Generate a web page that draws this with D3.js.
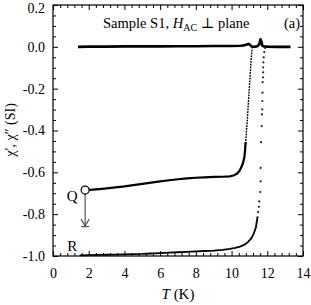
<!DOCTYPE html>
<html><head><meta charset="utf-8">
<script src="https://cdn.jsdelivr.net/npm/d3@7/dist/d3.min.js"></script>
<style>
html,body{margin:0;padding:0;background:#fff;}
svg text{font-family:"Liberation Serif","Times New Roman",Times,"DejaVu Serif",serif !important;fill:#000;}
</style></head>
<body><svg id="c" width="311" height="305"></svg>
<script>
// ---- data ----
const xMajor = [0,2,4,6,8,10,12,14];
const yMajor = [0.2,0.0,-0.2,-0.4,-0.6,-0.8,-1.0];

// curve Q (chi')
const tQ   = [1.8,2.2,2.6,3.0,3.5,4.0,4.5,5.0,5.5,6.0,6.5,7.0,7.5,8.0,8.5,9.0,9.5,9.9,10.1,10.3,10.45,10.55,10.65,10.72,10.76,10.79,10.82,10.85,10.88,10.91,10.94,10.97,11.0,11.03,11.06,11.09,11.12,11.15];
const chiQ = [-0.685,-0.683,-0.680,-0.677,-0.672,-0.667,-0.661,-0.655,-0.649,-0.643,-0.638,-0.633,-0.629,-0.626,-0.624,-0.622,-0.621,-0.619,-0.615,-0.607,-0.592,-0.575,-0.553,-0.525,-0.49,-0.455,-0.42,-0.385,-0.35,-0.31,-0.27,-0.23,-0.19,-0.15,-0.11,-0.07,-0.035,-0.008];

// curve R (chi')
const tR   = [1.5,2,2.5,3,3.5,4,4.5,5,5.5,6,6.5,7,7.5,8,8.5,9,9.5,9.9,10.2,10.47,10.7,10.85,11.0,11.13,11.22,11.31,11.36,11.41,11.45,11.49,11.53,11.55,11.61,11.63,11.63,11.65,11.69,11.70,11.72,11.72,11.73,11.74,11.76,11.77,11.77,11.78,11.80,11.83,11.88];
const chiR = [-0.997,-0.996,-0.995,-0.994,-0.993,-0.992,-0.991,-0.990,-0.988,-0.986,-0.984,-0.982,-0.980,-0.978,-0.976,-0.974,-0.971,-0.966,-0.961,-0.955,-0.947,-0.938,-0.926,-0.912,-0.897,-0.877,-0.862,-0.838,-0.815,-0.79,-0.765,-0.739,-0.694,-0.643,-0.579,-0.456,-0.379,-0.323,-0.299,-0.259,-0.219,-0.169,-0.146,-0.122,-0.098,-0.074,-0.05,-0.025,-0.005];

// chi''
const tI   = [1.4,2,3,4,5,6,7,8,9,10,10.5,10.7,10.85,10.95,11.05,11.15,11.3,11.45,11.55,11.62,11.67,11.72,11.8,12,12.5,13,13.3];
const chiI = [0.0,0.001,0.001,0.002,0.002,0.002,0.003,0.003,0.004,0.004,0.005,0.007,0.011,0.014,0.008,0.0,0.001,0.003,0.012,0.036,0.026,0.006,0.002,0.001,0.0,0.0,0.0];

// annotation (data units)
const markQ = {T:1.8, chi:-0.685};
const arrowEnd = -0.857;
const labels = [{text:"Q", T:1.08, chi:-0.735},{text:"R", T:1.08, chi:-0.977}];

// ---- drawing ----
const FONT = '"Liberation Serif","Times New Roman",Times,"DejaVu Serif",serif';
const svg = d3.select("#c");
const x = d3.scaleLinear().domain([0,14]).range([53,303]);
const y = d3.scaleLinear().domain([-1,0.2]).range([256,5]);
const xMinor = d3.range(0,14.001,0.4).filter(v=>xMajor.every(m=>Math.abs(m-v)>1e-6));
const yMinor = d3.range(-1,0.2001,0.05).filter(v=>yMajor.every(m=>Math.abs(m-v)>1e-6));

function styleAxis(g){
  g.attr("font-family",FONT);
  g.select(".domain").remove();
  g.selectAll(".tick line").attr("stroke","#000").attr("stroke-width",1);
}

const fmtY = v => (v<0?"-":"") + Math.abs(v).toFixed(1);
svg.append("g").attr("transform","translate(0,256)")
  .call(d3.axisBottom(x).tickValues(xMajor).tickSize(-5).tickPadding(12).tickFormat(d3.format("d")))
  .call(styleAxis).selectAll("text").attr("font-size",14);
svg.append("g").attr("transform","translate(0,256)")
  .call(d3.axisBottom(x).tickValues(xMinor).tickSize(-3).tickFormat("")).call(styleAxis);
svg.append("g").attr("transform","translate(0,5)")
  .call(d3.axisTop(x).tickValues(xMajor).tickSize(-5).tickFormat("")).call(styleAxis);
svg.append("g").attr("transform","translate(0,5)")
  .call(d3.axisTop(x).tickValues(xMinor).tickSize(-3).tickFormat("")).call(styleAxis);
const yAx = svg.append("g").attr("transform","translate(53,0)")
  .call(d3.axisLeft(y).tickValues(yMajor).tickSize(-5).tickPadding(8).tickFormat(fmtY))
  .call(styleAxis);
yAx.selectAll("text").attr("font-size",14)
  .attr("dy",d=>d>0.1 ? "0.5em" : "0.32em");
svg.append("g").attr("transform","translate(53,0)")
  .call(d3.axisLeft(y).tickValues(yMinor).tickSize(-3).tickFormat("")).call(styleAxis);
svg.append("g").attr("transform","translate(303,0)")
  .call(d3.axisRight(y).tickValues(yMajor).tickSize(-5).tickFormat("")).call(styleAxis);
svg.append("g").attr("transform","translate(303,0)")
  .call(d3.axisRight(y).tickValues(yMinor).tickSize(-3).tickFormat("")).call(styleAxis);

svg.append("rect").attr("x",53).attr("y",5).attr("width",250).attr("height",251)
  .attr("fill","none").attr("stroke","#000").attr("stroke-width",1.2);

const line = d3.line().x(d=>x(d[0])).y(d=>y(d[1]));
const dI = tI.map((t,i)=>[t,chiI[i]]);
const dQ = tQ.map((t,i)=>[t,chiQ[i]]);
const dR = tR.map((t,i)=>[t,chiR[i]]);

svg.append("path").attr("d",line(dI)).attr("fill","none").attr("stroke","#000").attr("stroke-width",2.6).attr("stroke-linejoin","round");
svg.append("path").attr("d",line(dQ.filter(d=>d[0]<=10.8))).attr("fill","none").attr("stroke","#000").attr("stroke-width",2.2).attr("stroke-linejoin","round");
svg.append("path").attr("d",line(dQ.filter(d=>d[0]>=10.76))).attr("fill","none").attr("stroke","#000").attr("stroke-width",1.4).attr("stroke-dasharray","1.8,1");
svg.append("path").attr("d",line(dR.filter(d=>d[0]<=11.45))).attr("fill","none").attr("stroke","#000").attr("stroke-width",1.8).attr("stroke-linejoin","round");
svg.append("g").selectAll("circle").data(dR.filter(d=>d[0]>=11.3)).join("circle")
  .attr("cx",d=>x(d[0])).attr("cy",d=>y(d[1])).attr("r",1.1).attr("fill","#222");

// annotation Q
const ax = x(markQ.T);
svg.append("line").attr("x1",ax).attr("x2",ax).attr("y1",y(markQ.chi)+4).attr("y2",y(arrowEnd))
  .attr("stroke","#555").attr("stroke-width",1.2);
svg.append("path").attr("d",`M${ax-4},${y(arrowEnd)-7}L${ax},${y(arrowEnd)}L${ax+4},${y(arrowEnd)-7}`)
  .attr("fill","none").attr("stroke","#555").attr("stroke-width",1.2);
svg.append("line").attr("x1",ax-4).attr("x2",ax+4).attr("y1",y(arrowEnd)+0.5).attr("y2",y(arrowEnd)+0.5)
  .attr("stroke","#555").attr("stroke-width",1.2);
svg.append("circle").attr("cx",ax).attr("cy",y(markQ.chi)).attr("r",4)
  .attr("fill","#fff").attr("stroke","#000").attr("stroke-width",1.2);

svg.selectAll("text.lab").data(labels).join("text").attr("class","lab")
  .attr("x",d=>x(d.T)).attr("y",d=>y(d.chi)).attr("text-anchor","middle").attr("font-size",15).text(d=>d.text);

// title
const title = svg.append("text").attr("x",103).attr("y",28).attr("font-size",14.5);
title.append("tspan").text("Sample S1, ");
title.append("tspan").attr("font-style","italic").text("H");
title.append("tspan").attr("font-size",10).attr("dy",3).text("AC");
title.append("tspan").attr("dy",-3).text(" \u22A5 plane");
svg.append("text").attr("x",284).attr("y",28).attr("font-size",14.5).text("(a)");

// axis labels
const xl = svg.append("text").attr("x",178).attr("y",299).attr("text-anchor","middle").attr("font-size",15);
xl.append("tspan").attr("font-style","italic").text("T");
xl.append("tspan").text(" (K)");
svg.append("text").attr("transform","translate(15,130) rotate(-90)").attr("text-anchor","middle")
  .attr("font-size",14).text("\u03C7\u2032, \u03C7\u2033 (SI)");
</script></body></html>
